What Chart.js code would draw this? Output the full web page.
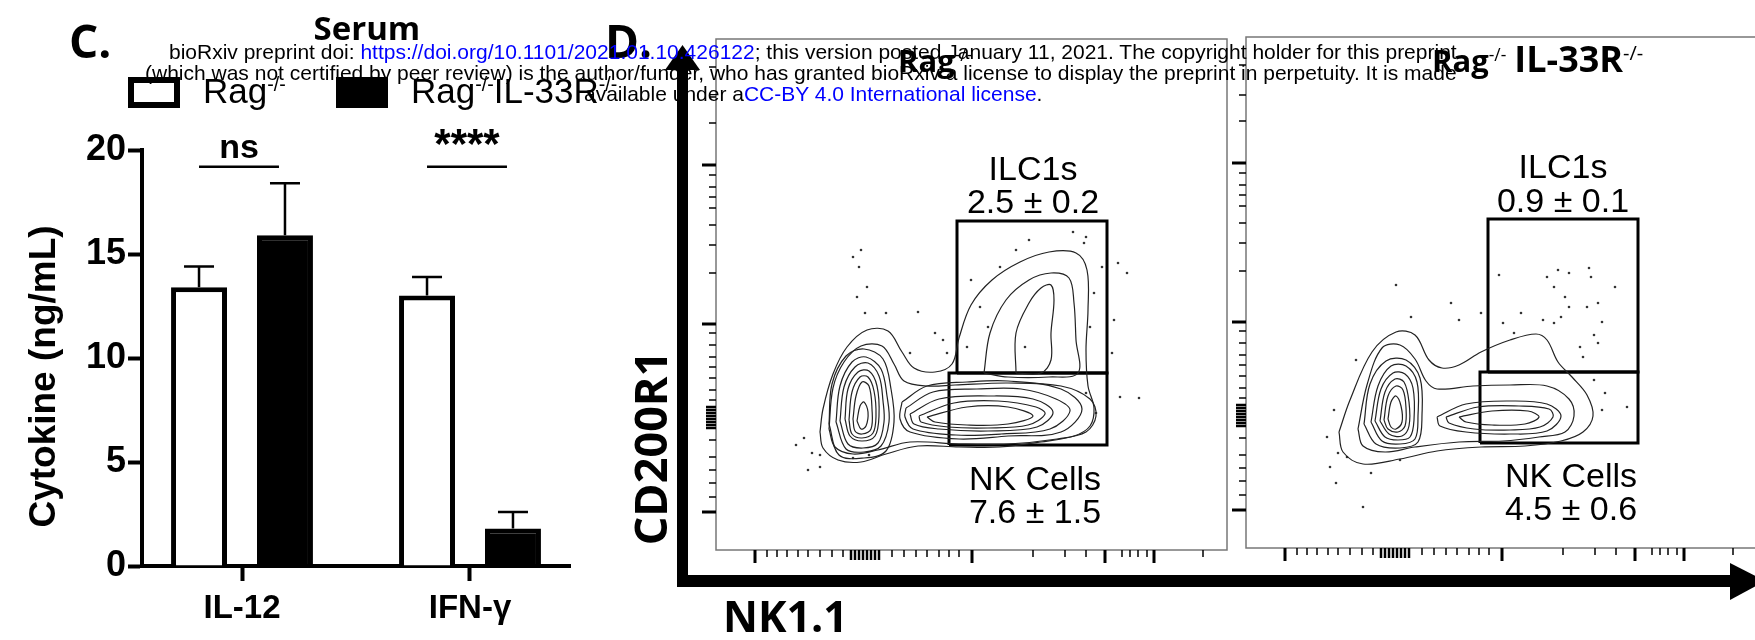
<!DOCTYPE html>
<html>
<head>
<meta charset="utf-8">
<script src="https://cdn.jsdelivr.net/npm/chart.js@4.4.1/dist/chart.umd.min.js"></script>
<style>
  body { margin: 0; background: #fff; }
  #page { position: relative; width: 1755px; height: 640px; overflow: hidden; background: #fff; }
  .box { position: absolute; }
  .t { position: absolute; white-space: nowrap; color: #000; }
  .t sup { font-size: 0.56em; vertical-align: 0.62em; line-height: 0; }
  .lnk { color: #0000ff; }
</style>
</head>
<body>
<div id="page">
  <div class="box" style="left:0;top:0;width:620px;height:640px"><canvas id="serum" width="620" height="640"></canvas></div>
  <div class="box" style="left:690px;top:20px;width:560px;height:560px"><canvas id="flowRag" width="560" height="560"></canvas></div>
  <div class="box" style="left:1220px;top:18px;width:560px;height:560px"><canvas id="flowKo" width="560" height="560"></canvas></div>
  <svg class="box" width="1755" height="640" style="left:0;top:0">
    <rect x="677" y="62" width="11" height="525" fill="#000"/>
    <polygon points="665,70 700,70 682.5,45" fill="#000"/>
    <rect x="677" y="575" width="1058" height="12" fill="#000"/>
    <polygon points="1730,563 1730,600 1765,581" fill="#000"/>
  </svg>
  <div class="box" style="left:128px;top:77px;width:52px;height:31px;border:6px solid #000;box-sizing:border-box;background:#fff"></div>
  <div class="box" style="left:336px;top:77px;width:52px;height:31px;background:#000"></div>
</div>
<script>
// ---- panel C: serum cytokines ----
const categories = ['IL-12', 'IFN-γ'];
const ragMean = [13.4, 13.0];
const ragUpper = [14.4, 13.9];   // mean + SEM
const koMean = [15.9, 1.8];
const koUpper = [18.4, 2.6];
const sigText = ['ns', '****'];
const sigSize = [34, 42];
const sigLevel = 19.2;
const yTicks = [0, 5, 10, 15, 20];

// ---- panel D: flow plots (plot units = pixels from bottom-left of each frame, 0..511) ----
const ragOuter = [[104,118],[107,141],[117,176],[131,203],[151,220],[172,219],[186,198],[198,182],[219,178],[236,186],[243,212],[255,245],[276,270],[304,288],[333,298],[360,297],[371,280],[372,240],[370,200],[372,164],[378,142],[374,124],[358,114],[325,108],[284,103],[243,103],[202,104],[170,96],[145,88],[122,90],[107,102]];
const ragBridge = [[113,121],[117,162],[128,188],[145,204],[166,204],[178,186],[188,169],[211,164],[239,165],[292,167],[345,164],[374,151],[380,134],[370,118],[341,111],[292,106],[243,106],[194,108],[162,100],[137,96],[119,103]];
const ragIlcMid = [[268,177],[274,217],[290,250],[313,270],[335,277],[353,272],[358,247],[360,210],[362,177],[333,173],[292,173]];
const ragIlcCore = [[300,177],[300,217],[313,247],[325,262],[335,265],[338,250],[335,217],[335,190],[325,177]];
const ragNk1 = [[186,148],[211,164],[251,168],[292,169],[345,161],[366,141],[345,118],[292,114],[243,111],[194,118],[184,131]];
const ragNk15 = [[190,142],[217,158],[261,161],[305,161],[340,151],[354,139],[334,121],[285,116],[240,115],[197,121],[189,133]];
const ragNk2 = [[194,136],[223,151],[272,154],[317,151],[337,138],[321,123],[272,119],[223,121],[198,126]];
const ragNk25 = [[203,134],[238,147],[282,149],[320,143],[329,136],[312,125],[272,122],[232,123],[205,128]];
const ragNk3 = [[211,133],[251,143],[292,143],[317,134],[292,126],[251,125],[219,128]];
const ragLeft0 = [[113,126],[116,166],[130,194],[148,201],[167,191],[175,161],[178,128],[170,99],[148,92],[123,95]];
const ragLeft1 = [[120,128],[124,164],[136,188],[150,193],[165,181],[171,154],[173,128],[165,104],[148,98],[130,101]];
const ragLeft15 = [[124,129],[128,163],[139,183],[152,187],[163,174],[167,149],[168,128],[162,107],[147,102],[132,106]];
const ragLeft2 = [[129,131],[132,161],[142,178],[153,179],[161,164],[163,134],[159,114],[146,109],[134,114]];
const ragLeft25 = [[133,130],[136,158],[144,173],[152,173],[158,159],[160,134],[157,117],[146,112],[136,116]];
const ragLeft3 = [[137,131],[140,154],[146,168],[153,164],[156,141],[155,121],[146,116],[139,119]];
const ragLeft4 = [[141,129],[144,144],[148,148],[152,138],[150,124],[145,121]];
const ragDots = [[145,300],[137,293],[143,283],[141,253],[151,263],[149,237],[170,237],[202,238],[219,217],[227,210],[231,197],[194,197],[255,270],[313,310],[300,300],[284,283],[357,318],[370,313],[368,307],[386,283],[402,287],[411,277],[378,257],[398,230],[396,197],[374,223],[404,153],[423,152],[380,137],[370,157],[80,105],[88,112],[96,97],[104,95],[92,80],[104,83],[137,92],[153,95],[272,223],[251,203],[309,203],[264,243]];
const ragIlcGate = [[241,177],[391,177],[391,329],[241,329]];
const ragNkGate = [[233,105],[391,105],[391,177],[233,177]];
const ragGateText = ['ILC1s', '2.5 ± 0.2', 'NK Cells', '7.6 ± 1.5'];
const ragGateTextPos = [[317,370],[317,337],[319,60],[319,27]];

const koOuter = [[93,116],[104,148],[126,196],[150,216],[169,213],[183,188],[196,180],[213,183],[235,196],[264,208],[290,214],[301,208],[312,186],[326,171],[341,153],[347,132],[337,116],[315,107],[279,102],[235,101],[191,97],[154,89],[117,84],[97,96]];
const koMid = [[112,119],[121,163],[136,200],[154,203],[169,189],[180,167],[191,159],[227,162],[264,163],[301,162],[323,149],[328,132],[319,116],[293,111],[257,107],[213,106],[169,101],[139,96],[117,102]];
const koNk1 = [[191,131],[220,144],[264,147],[301,144],[315,132],[301,117],[264,114],[220,116],[194,122]];
const koNk15 = [[200,131],[232,141],[273,142],[303,139],[307,131],[294,121],[264,118],[228,119],[203,125]];
const koNk2 = [[213,131],[246,137],[282,137],[293,131],[279,124],[246,123],[220,126]];
const koLeft0 = [[118,124],[124,164],[140,187],[160,188],[174,170],[176,133],[172,106],[154,100],[130,104]];
const koLeft1 = [[125,126],[132,162],[145,182],[160,182],[171,166],[172,132],[169,109],[154,104],[136,107]];
const koLeft15 = [[129,127],[135,159],[147,175],[159,174],[167,160],[168,128],[164,111],[152,108],[139,111]];
const koLeft2 = [[134,127],[139,156],[149,169],[158,166],[163,146],[163,122],[156,112],[143,114]];
const koLeft25 = [[138,128],[142,152],[150,162],[157,158],[160,140],[159,122],[152,116],[142,119]];
const koLeft3 = [[142,129],[145,146],[150,152],[155,142],[156,126],[150,119],[145,121]];
const koDots = [[253,273],[301,271],[312,278],[323,275],[343,280],[369,261],[345,271],[308,261],[319,251],[323,241],[341,241],[352,245],[275,235],[297,228],[308,225],[315,231],[356,226],[348,213],[352,205],[334,201],[257,225],[268,215],[205,245],[213,228],[235,235],[150,263],[165,231],[348,168],[359,155],[356,138],[381,141],[337,191],[88,138],[81,111],[92,95],[101,91],[84,81],[90,65],[125,75],[117,41],[154,88],[110,188]];
const koIlcGate = [[242,176],[392,176],[392,329],[242,329]];
const koNkGate = [[234,105],[392,105],[392,176],[234,176]];
const koGateText = ['ILC1s', '0.9 ± 0.1', 'NK Cells', '4.5 ± 0.6'];
const koGateTextPos = [[317,370],[317,336],[325,61],[325,28]];

// shared axis tick positions (plot units)
const flowXMajor = [39, 256, 389, 438];
const flowXMinor = [51, 61, 71, 82, 92, 104, 116, 127, 176, 188, 200, 211, 223, 233, 243, 317, 349, 370, 406, 414, 422, 431, 487];
const flowXZero = [135, 139, 143, 147, 151, 155, 159, 163];
const flowYMajor = [385, 226, 38];
const flowYMinor = [427, 453, 483, 375, 363, 353, 342, 325, 305, 277, 217, 205, 193, 183, 172, 160, 150, 110, 93, 80, 67, 53];
const flowYZero = [143, 140, 137, 134, 131, 128, 125, 122];

const sans = "'Liberation Sans', Arial, sans-serif";
Chart.defaults.font.family = sans;
Chart.defaults.color = '#000';

const errorBars = {
  id: 'errorBars',
  afterDatasetsDraw(chart) {
    const ctx = chart.ctx;
    const y = chart.scales.y;
    const uppers = [ragUpper, koUpper];
    ctx.save();
    ctx.strokeStyle = '#000';
    ctx.lineWidth = 2.5;
    uppers.forEach((arr, d) => {
      chart.getDatasetMeta(d).data.forEach((bar, i) => {
        const top = y.getPixelForValue(arr[i]);
        ctx.beginPath();
        ctx.moveTo(bar.x, bar.y);
        ctx.lineTo(bar.x, top);
        ctx.moveTo(bar.x - 15, top);
        ctx.lineTo(bar.x + 15, top);
        ctx.stroke();
      });
    });
    // significance lines
    const a = chart.getDatasetMeta(0).data;
    const b = chart.getDatasetMeta(1).data;
    const ly = y.getPixelForValue(sigLevel);
    ctx.fillStyle = '#000';
    ctx.textAlign = 'center';
    ctx.textBaseline = 'alphabetic';
    sigText.forEach((s, i) => {
      ctx.beginPath();
      ctx.moveTo(a[i].x, ly);
      ctx.lineTo(b[i].x - 6, ly);
      ctx.stroke();
      ctx.font = 'bold ' + sigSize[i] + 'px ' + sans;
      ctx.fillText(s, (a[i].x + b[i].x) / 2 - 3, ly - 9);
    });
    ctx.restore();
  }
};

new Chart(document.getElementById('serum'), {
  type: 'bar',
  data: {
    datasets: [
      {
        label: 'Rag-/-',
        data: categories.map((c, i) => ({ x: i, y: ragMean[i] })),
        backgroundColor: '#fff', borderColor: '#000', borderWidth: 5,
        categoryPercentage: 0.754, barPercentage: 0.651
      },
      {
        label: 'Rag-/-IL-33R-/-',
        data: categories.map((c, i) => ({ x: i, y: koMean[i] })),
        backgroundColor: '#000', borderColor: '#000', borderWidth: 5,
        categoryPercentage: 0.754, barPercentage: 0.651
      }
    ]
  },
  options: {
    responsive: false,
    animation: false,
    events: [],
    layout: { padding: { top: 150, right: 50, left: 0, bottom: 0 } },
    plugins: { legend: { display: false }, tooltip: { enabled: false } },
    scales: {
      x: {
        type: 'linear', min: -0.4386, max: 1.4386, offset: false,
        afterBuildTicks: ax => { ax.ticks = categories.map((c, i) => ({ value: i })); },
        afterFit: ax => { ax.height = 74; },
        ticks: { callback: v => categories[v], font: { size: 33, weight: 'bold' }, color: '#000', padding: 8, maxRotation: 0, autoSkip: false },
        grid: { offset: false, drawOnChartArea: false, drawTicks: true, tickLength: 15, tickWidth: 4, tickColor: '#000' },
        border: { display: true, color: '#000', width: 4 }
      },
      y: {
        min: 0, max: 20,
        afterBuildTicks: ax => { ax.ticks = yTicks.map(v => ({ value: v })); },
        afterFit: ax => { ax.width = 142; },
        ticks: { font: { size: 36, weight: 'bold' }, color: '#000', padding: 2 },
        grid: { drawOnChartArea: false, drawTicks: true, tickLength: 14, tickWidth: 4, tickColor: '#000' },
        border: { display: true, color: '#000', width: 4 },
        title: { display: true, text: 'Cytokine (ng/mL)\u2002\u2002', color: '#000', font: { size: 37, weight: 'bold' }, padding: { top: 23, bottom: 0 } }
      }
    }
  },
  plugins: [errorBars]
});

// ---- flow plots ----
const flowFrame = {
  id: 'flowFrame',
  afterDraw(chart, args, opts) {
    const { ctx, chartArea: area, scales: { x, y } } = chart;
    ctx.save();
    ctx.strokeStyle = '#777';
    ctx.lineWidth = 1.5;
    ctx.strokeRect(area.left, area.top, area.width, area.height);
    ctx.strokeStyle = '#000';
    const xTicks = (vals, len, w) => {
      ctx.lineWidth = w;
      vals.forEach(v => {
        const px = x.getPixelForValue(v);
        ctx.beginPath(); ctx.moveTo(px, area.bottom); ctx.lineTo(px, area.bottom + len); ctx.stroke();
      });
    };
    const yTicksDraw = (vals, len, w) => {
      ctx.lineWidth = w;
      vals.forEach(v => {
        const py = y.getPixelForValue(v);
        ctx.beginPath(); ctx.moveTo(area.left, py); ctx.lineTo(area.left - len, py); ctx.stroke();
      });
    };
    xTicks(flowXMajor, 13, 3); xTicks(flowXMinor, 7, 1.5); xTicks(flowXZero, 10, 2.5);
    yTicksDraw(flowYMajor, 14, 3); yTicksDraw(flowYMinor, 7, 1.5); yTicksDraw(flowYZero, 10, 2.5);
    ctx.fillStyle = '#000';
    ctx.font = '34px ' + sans;
    ctx.textAlign = 'center';
    ctx.textBaseline = 'alphabetic';
    opts.text.forEach((s, i) => {
      const p = opts.pos[i];
      ctx.fillText(s, x.getPixelForValue(p[0]), y.getPixelForValue(p[1]));
    });
    ctx.restore();
  }
};

const toPts = arr => arr.map(p => ({ x: p[0], y: p[1] }));
const loop = arr => toPts(arr.concat([arr[0]]));

function flowChart(id, contours, dots, gates, text, pos) {
  const datasets = contours.map(c => ({
    data: loop(c), showLine: true, borderColor: '#222', borderWidth: 1.2,
    pointRadius: 0, tension: 0.35, fill: false
  }));
  datasets.push({ data: toPts(dots), pointRadius: 1.3, pointBackgroundColor: '#333', pointBorderWidth: 0, showLine: false });
  gates.forEach(g => datasets.push({
    data: loop(g), showLine: true, borderColor: '#000', borderWidth: 3, pointRadius: 0, tension: 0, fill: false
  }));
  new Chart(document.getElementById(id), {
    type: 'scatter',
    data: { datasets },
    options: {
      responsive: false,
      animation: false,
      events: [],
      layout: { padding: { left: 26, top: 19, right: 23, bottom: 30 } },
      plugins: { legend: { display: false }, tooltip: { enabled: false }, flowFrame: { text, pos } },
      scales: {
        x: { type: 'linear', min: 0, max: 511, display: false },
        y: { type: 'linear', min: 0, max: 511, display: false }
      }
    },
    plugins: [flowFrame]
  });
}

flowChart('flowRag',
  [ragOuter, ragBridge, ragIlcMid, ragIlcCore, ragNk1, ragNk15, ragNk2, ragNk25, ragNk3,
   ragLeft0, ragLeft1, ragLeft15, ragLeft2, ragLeft25, ragLeft3, ragLeft4],
  ragDots, [ragIlcGate, ragNkGate], ragGateText, ragGateTextPos);
flowChart('flowKo',
  [koOuter, koMid, koNk1, koNk15, koNk2, koLeft0, koLeft1, koLeft15, koLeft2, koLeft25, koLeft3],
  koDots, [koIlcGate, koNkGate], koGateText, koGateTextPos);

// ---- figure text ----
const page = document.getElementById('page');
const openSans = "'Open Sans', sans-serif";
function placeText(html, x, baseline, font, align, z) {
  const el = document.createElement('div');
  el.className = 't';
  el.innerHTML = html;
  el.style.font = font;
  el.style.lineHeight = '1';
  if (z) el.style.zIndex = z;
  page.appendChild(el);
  const probe = document.createElement('i');
  probe.style.cssText = 'display:inline-block;width:0;height:0;vertical-align:baseline';
  el.appendChild(probe);
  const base = probe.offsetTop;
  el.removeChild(probe);
  let left = x;
  if (align === 'center') left -= el.offsetWidth / 2;
  el.style.left = left + 'px';
  el.style.top = (baseline - base) + 'px';
  return el;
}

placeText('C.', 69, 58, '700 46px ' + openSans);
placeText('Serum', 367, 40, '700 33px ' + openSans, 'center');
placeText('Rag<sup>-/-</sup>', 203, 103, '35px ' + sans);
placeText('Rag<sup>-/-</sup>IL-33R<sup>-/-</sup>', 411, 103, '35px ' + sans);
placeText('D.', 605, 58, '700 46px ' + openSans);
placeText('Rag<sup style="font-weight:400">-/-</sup>', 898, 72, '700 31px ' + openSans);
placeText('Rag<sup style="font-weight:400">-/-</sup> <span style="font-size:36px">IL-33R</span><sup style="font-weight:400;font-size:20px">-/-</sup>', 1432, 72, '700 31px ' + openSans);
placeText('NK1.1', 723, 632, '700 43px ' + openSans);

const cd = document.createElement('div');
cd.className = 't';
cd.textContent = 'CD200R1';
cd.style.font = '700 45px ' + openSans;
cd.style.lineHeight = '1';
cd.style.left = '649px';
cd.style.top = '448px';
cd.style.transform = 'translate(-50%, -50%) rotate(-90deg)';
page.appendChild(cd);

// bioRxiv header, drawn on top of everything
const wm = [
  'bioRxiv preprint doi: <span class="lnk">https://doi.org/10.1101/2021.01.10.426122</span>; this version posted January 11, 2021. The copyright holder for this preprint',
  '(which was not certified by peer review) is the author/funder, who has granted bioRxiv a license to display the preprint in perpetuity. It is made',
  'available under a<span class="lnk">CC-BY 4.0 International license</span>.'
];
const wmBase = [59, 80, 101];
const wmCenter = [813, 801, 813];
wm.forEach((line, i) => placeText(line, wmCenter[i], wmBase[i], '21px ' + sans, 'center', 10));
</script>
</body>
</html>
